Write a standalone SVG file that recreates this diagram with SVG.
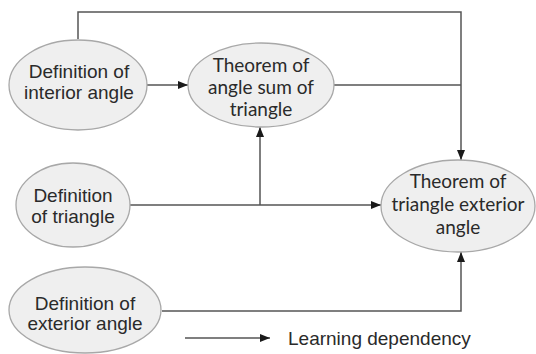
<svg xmlns="http://www.w3.org/2000/svg" width="536" height="354" viewBox="0 0 536 354">
<defs>
<marker id="ah" viewBox="0 0 10 8" refX="10" refY="4" markerWidth="10" markerHeight="8" markerUnits="userSpaceOnUse" orient="auto">
<path d="M0,0 L10,4 L0,8 Z" fill="#1a1a1a"/>
</marker>
<style>
.node ellipse{fill:#efefef;stroke:#a8a8a8;stroke-width:1.3}
.def{font-family:"Liberation Sans",Arial,sans-serif;font-size:19px;fill:#2a2a2a;text-anchor:middle}
.thm{font-family:Lato,"Open Sans",sans-serif;font-size:19px;fill:#2a2a2a;text-anchor:middle}
.conn path{fill:none;stroke:#555;stroke-width:1.5}
.leg{font-family:"Liberation Sans",Arial,sans-serif;font-size:19px;fill:#2a2a2a}
</style>
</defs>
<rect width="536" height="354" fill="#fff"/>
<g class="conn">
<path d="M78,39 V12 H461 V160" marker-end="url(#ah)"/>
<path d="M334,85 H461"/>
<path d="M147,85 H188" marker-end="url(#ah)"/>
<path d="M130,205 H381" marker-end="url(#ah)"/>
<path d="M260,205 V127" marker-end="url(#ah)"/>
<path d="M162,311 H461 V252" marker-end="url(#ah)"/>
<path d="M185,338 H270" marker-end="url(#ah)"/>
</g>
<g id="def-interior" class="node">
<ellipse cx="78" cy="85" rx="69" ry="45"/>
<text class="def" x="79" y="78">Definition of</text>
<text class="def" x="79" y="99">interior angle</text>
</g>
<g id="thm-angle-sum" class="node">
<ellipse cx="261" cy="85" rx="73" ry="42"/>
<text class="thm" x="261" y="72">Theorem of</text>
<text class="thm" x="261" y="94">angle sum of</text>
<text class="thm" x="261" y="116">triangle</text>
</g>
<g id="def-triangle" class="node">
<ellipse cx="73" cy="205" rx="57" ry="42"/>
<text class="def" x="73" y="202">Definition</text>
<text class="def" x="73" y="223">of triangle</text>
</g>
<g id="def-exterior" class="node">
<ellipse cx="85" cy="310" rx="76" ry="43"/>
<text class="def" x="85" y="310">Definition of</text>
<text class="def" x="85" y="330">exterior angle</text>
</g>
<g id="thm-exterior" class="node">
<ellipse cx="458" cy="206" rx="77" ry="46"/>
<text class="thm" x="458" y="188">Theorem of</text>
<text class="thm" x="458" y="211">triangle exterior</text>
<text class="thm" x="458" y="234">angle</text>
</g>
<text class="leg" x="288" y="345">Learning dependency</text>
</svg>
